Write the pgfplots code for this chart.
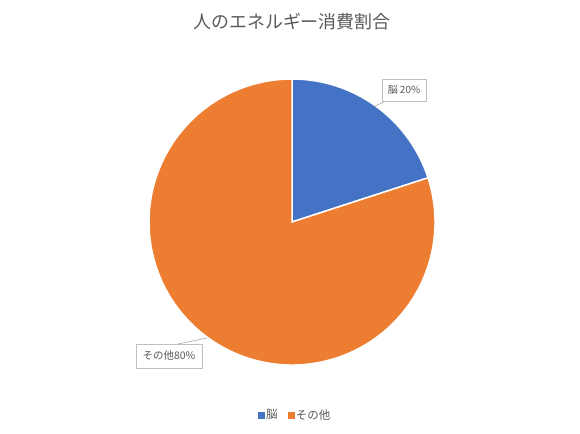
\documentclass[border=0pt]{standalone}
\usepackage{fontspec}
\setmainfont{Noto Sans CJK JP}
\usepackage{pgfplots}
\pgfplotsset{compat=1.18}

\definecolor{sliceblue}{HTML}{4472C4}
\definecolor{sliceorange}{HTML}{ED7D31}
\definecolor{txtgray}{HTML}{595959}
\definecolor{boxgray}{HTML}{BFBFBF}
\definecolor{linegray}{HTML}{A6A6A6}

% shares in percent
\def\brain{20}
\def\other{80}

\begin{document}
\begin{tikzpicture}
\begin{axis}[
    hide axis,
    scale only axis,
    width=580bp, height=433bp,
    xmin=0, xmax=580, ymin=0, ymax=433,
    clip=false,
    legend columns=2,
    legend style={draw=none, at={(axis cs:295,18)}, anchor=center,
        font=\fontsize{11.5}{13}\selectfont\color{txtgray},
        /tikz/every even column/.append style={column sep=8bp}},
    legend image code/.code={\fill[#1] (0bp,-3bp) rectangle (6bp,3bp);},
]
\path (axis cs:0,0) rectangle (axis cs:580,433);

\pgfmathsetmacro{\aend}{90-360*\brain/100}
% brain slice
\fill[sliceblue, draw=white, line width=1.5bp]
    (axis cs:292,211) -- ++(90:143bp) arc[start angle=90, end angle=\aend, radius=143bp] -- cycle;
% other slice
\fill[sliceorange, draw=white, line width=1.5bp]
    (axis cs:292,211) -- ++(\aend:143bp) arc[start angle=\aend, end angle=-270, radius=143bp] -- cycle;

\addlegendimage{sliceblue}
\addlegendentry{脳}
\addlegendimage{sliceorange}
\addlegendentry{その他}

% title
\node[text=txtgray, font=\fontsize{18}{20}\selectfont] at (axis cs:292,411) {人のエネルギー消費割合};

% data labels
\draw[linegray, line width=0.6bp] (axis cs:375,327) -- (axis cs:386,332);
\node[draw=boxgray, fill=white, text=txtgray, font=\fontsize{10}{12}\selectfont,
      inner sep=2bp, minimum width=44bp, minimum height=22bp] at (axis cs:404,343) {脳 20\%};
\draw[linegray, line width=0.6bp] (axis cs:207,95) -- (axis cs:178,89);
\node[draw=boxgray, fill=white, text=txtgray, font=\fontsize{10.5}{12}\selectfont,
      inner sep=2bp, minimum width=66bp, minimum height=24bp] at (axis cs:169,77) {その他80\%};
\end{axis}
\end{tikzpicture}
\end{document}
